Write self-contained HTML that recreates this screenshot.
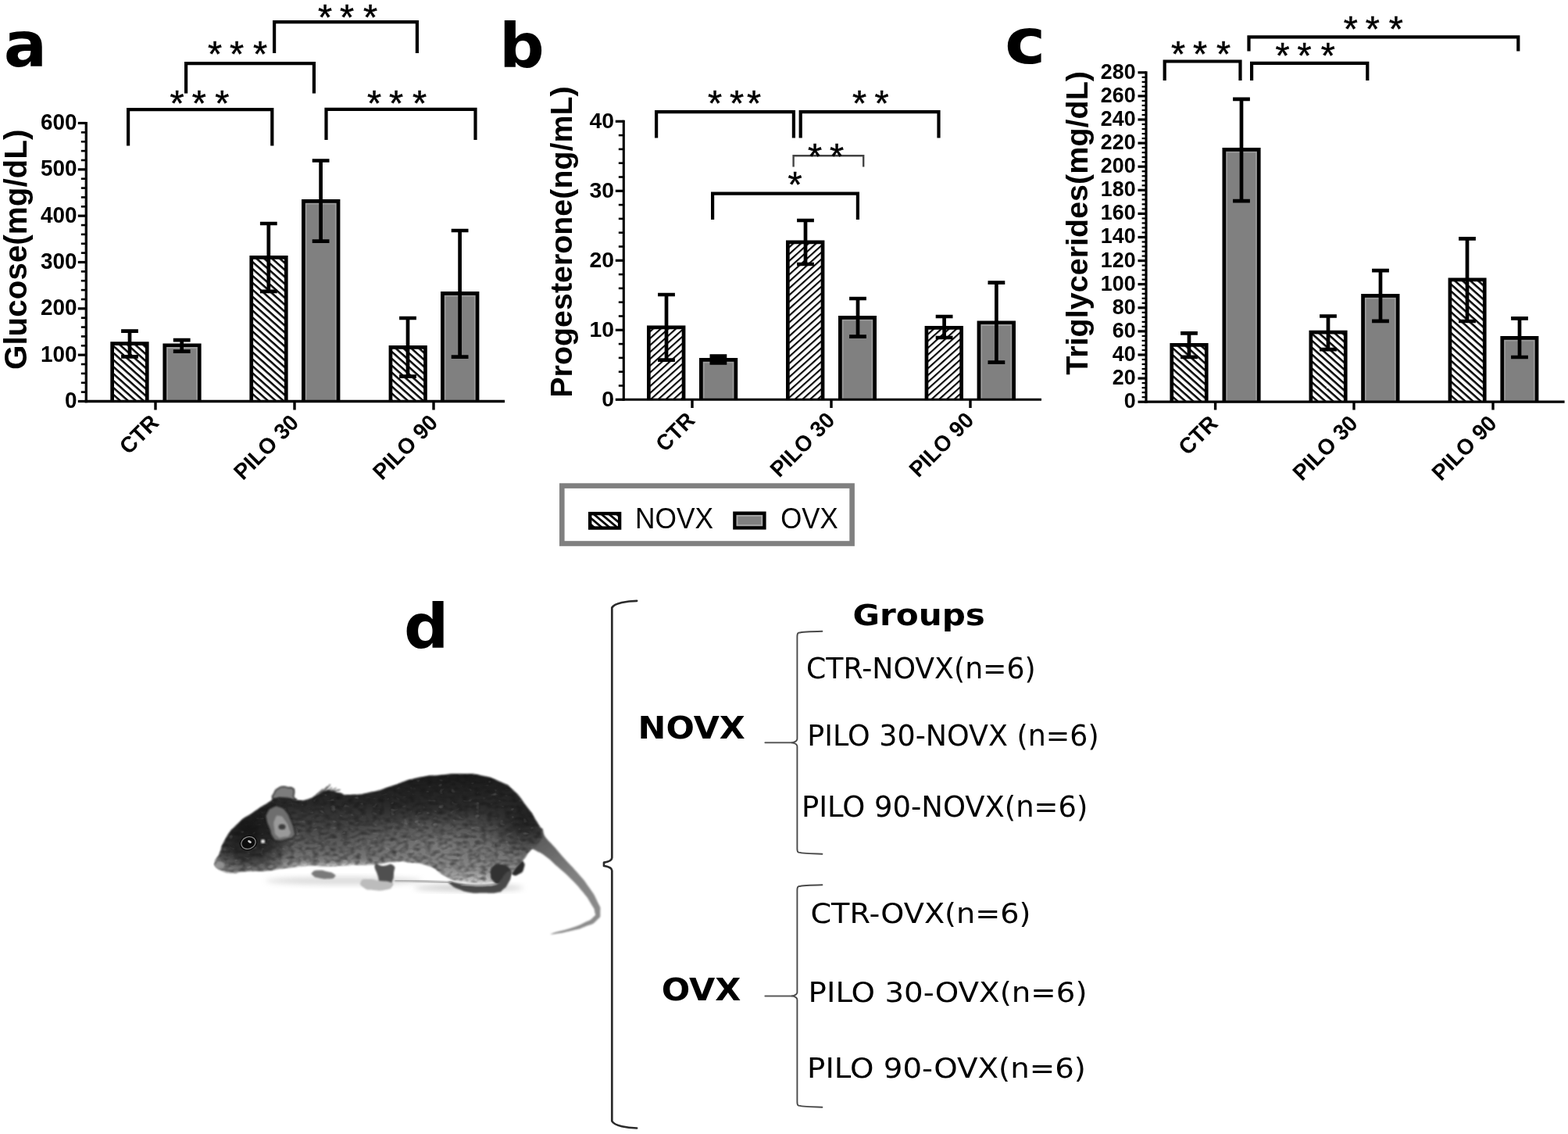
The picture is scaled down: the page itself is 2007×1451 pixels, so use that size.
<!DOCTYPE html>
<html lang="en">
<head>
<meta charset="utf-8">
<title>Figure: glucose, progesterone, triglycerides and experimental groups</title>
<style>
html,body{margin:0;padding:0;background:#fff;}
body{width:2007px;height:1451px;overflow:hidden;}
svg{display:block;}
text{white-space:pre;}
</style>
</head>
<body>
<svg width="2007" height="1451" viewBox="0 0 2007 1451">
<defs>
<pattern id="hatchA" patternUnits="userSpaceOnUse" width="6.63" height="6.63" patternTransform="rotate(41.8)">
<rect width="6.63" height="6.63" fill="#fff"/>
<rect y="0" width="6.63" height="2.5" fill="#000"/>
</pattern>
<pattern id="hatchB" patternUnits="userSpaceOnUse" width="6.5" height="6.5" patternTransform="rotate(-42)">
<rect width="6.5" height="6.5" fill="#fff"/>
<rect y="0" width="6.5" height="2.1" fill="#000"/>
</pattern>
<pattern id="hatchL" patternUnits="userSpaceOnUse" width="6.3" height="6.3" patternTransform="rotate(40) translate(0 1.5)"><rect width="6.3" height="6.3" fill="#fff"/><rect width="6.3" height="2.8" fill="#000"/></pattern>
</defs>
<rect width="2007" height="1451" fill="#fff"/>

<g id="panel-a">
<text transform="translate(4.80 85.01) scale(1.0318 1)" font-family='"DejaVu Sans", "Liberation Sans", sans-serif' font-weight="bold" font-size="79.65" fill="#000">a</text>
<rect x="143.65" y="439.65" width="44.60" height="73.85" fill="url(#hatchA)"/>
<path d="M143.65 513.50 V439.65 H188.25 V513.50" fill="none" stroke="#000" stroke-width="4.7"/>
<rect x="210.75" y="441.75" width="44.50" height="71.75" fill="#808080"/>
<path d="M214.00 512.00 V445.00 H252.00 V512.00" fill="none" stroke="#9c9c9c" stroke-width="1.8"/>
<path d="M210.75 513.50 V441.75 H255.25 V513.50" fill="none" stroke="#000" stroke-width="4.7"/>
<rect x="321.75" y="329.35" width="44.50" height="184.15" fill="url(#hatchA)"/>
<path d="M321.75 513.50 V329.35 H366.25 V513.50" fill="none" stroke="#000" stroke-width="4.7"/>
<rect x="388.35" y="257.35" width="44.70" height="256.15" fill="#808080"/>
<path d="M391.60 512.00 V260.60 H429.80 V512.00" fill="none" stroke="#9c9c9c" stroke-width="1.8"/>
<path d="M388.35 513.50 V257.35 H433.05 V513.50" fill="none" stroke="#000" stroke-width="4.7"/>
<rect x="499.95" y="444.35" width="44.50" height="69.15" fill="url(#hatchA)"/>
<path d="M499.95 513.50 V444.35 H544.45 V513.50" fill="none" stroke="#000" stroke-width="4.7"/>
<rect x="566.35" y="375.35" width="44.70" height="138.15" fill="#808080"/>
<path d="M569.60 512.00 V378.60 H607.80 V512.00" fill="none" stroke="#9c9c9c" stroke-width="1.8"/>
<path d="M566.35 513.50 V375.35 H611.05 V513.50" fill="none" stroke="#000" stroke-width="4.7"/>
<path d="M155.10 423.70 H176.90 M155.10 456.40 H176.90 M166.00 423.70 V456.40" fill="none" stroke="#000" stroke-width="4.7"/>
<path d="M221.80 435.20 H243.60 M221.80 449.70 H243.60 M232.70 435.20 V449.70" fill="none" stroke="#000" stroke-width="4.7"/>
<path d="M332.90 286.00 H354.70 M332.90 372.80 H354.70 M343.80 286.00 V372.80" fill="none" stroke="#000" stroke-width="4.7"/>
<path d="M399.70 205.50 H421.50 M399.70 308.70 H421.50 M410.60 205.50 V308.70" fill="none" stroke="#000" stroke-width="4.7"/>
<path d="M511.10 407.00 H532.90 M511.10 481.60 H532.90 M522.00 407.00 V481.60" fill="none" stroke="#000" stroke-width="4.7"/>
<path d="M577.70 295.00 H599.50 M577.70 456.60 H599.50 M588.60 295.00 V456.60" fill="none" stroke="#000" stroke-width="4.7"/>
<line x1="110.30" y1="155.92" x2="110.30" y2="515.15" stroke="#000" stroke-width="3.3" stroke-linecap="butt"/>
<line x1="108.65" y1="513.50" x2="646.00" y2="513.50" stroke="#000" stroke-width="3.3" stroke-linecap="butt"/>
<line x1="99.80" y1="513.50" x2="110.30" y2="513.50" stroke="#000" stroke-width="3.2" stroke-linecap="butt"/>
<text transform="translate(98.40 522.04) scale(0.975 1)" text-anchor="end" font-family='"Liberation Sans", Arial, Helvetica, sans-serif' font-weight="bold" font-size="28.6" fill="#000">0</text>
<line x1="103.80" y1="501.63" x2="110.30" y2="501.63" stroke="#000" stroke-width="2.6" stroke-linecap="butt"/>
<line x1="103.80" y1="489.77" x2="110.30" y2="489.77" stroke="#000" stroke-width="2.6" stroke-linecap="butt"/>
<line x1="103.80" y1="477.90" x2="110.30" y2="477.90" stroke="#000" stroke-width="2.6" stroke-linecap="butt"/>
<line x1="103.80" y1="466.04" x2="110.30" y2="466.04" stroke="#000" stroke-width="2.6" stroke-linecap="butt"/>
<line x1="99.80" y1="454.17" x2="110.30" y2="454.17" stroke="#000" stroke-width="3.2" stroke-linecap="butt"/>
<text transform="translate(98.40 462.71) scale(0.975 1)" text-anchor="end" font-family='"Liberation Sans", Arial, Helvetica, sans-serif' font-weight="bold" font-size="28.6" fill="#000">100</text>
<line x1="103.80" y1="442.30" x2="110.30" y2="442.30" stroke="#000" stroke-width="2.6" stroke-linecap="butt"/>
<line x1="103.80" y1="430.44" x2="110.30" y2="430.44" stroke="#000" stroke-width="2.6" stroke-linecap="butt"/>
<line x1="103.80" y1="418.57" x2="110.30" y2="418.57" stroke="#000" stroke-width="2.6" stroke-linecap="butt"/>
<line x1="103.80" y1="406.71" x2="110.30" y2="406.71" stroke="#000" stroke-width="2.6" stroke-linecap="butt"/>
<line x1="99.80" y1="394.84" x2="110.30" y2="394.84" stroke="#000" stroke-width="3.2" stroke-linecap="butt"/>
<text transform="translate(98.40 403.38) scale(0.975 1)" text-anchor="end" font-family='"Liberation Sans", Arial, Helvetica, sans-serif' font-weight="bold" font-size="28.6" fill="#000">200</text>
<line x1="103.80" y1="382.97" x2="110.30" y2="382.97" stroke="#000" stroke-width="2.6" stroke-linecap="butt"/>
<line x1="103.80" y1="371.11" x2="110.30" y2="371.11" stroke="#000" stroke-width="2.6" stroke-linecap="butt"/>
<line x1="103.80" y1="359.24" x2="110.30" y2="359.24" stroke="#000" stroke-width="2.6" stroke-linecap="butt"/>
<line x1="103.80" y1="347.38" x2="110.30" y2="347.38" stroke="#000" stroke-width="2.6" stroke-linecap="butt"/>
<line x1="99.80" y1="335.51" x2="110.30" y2="335.51" stroke="#000" stroke-width="3.2" stroke-linecap="butt"/>
<text transform="translate(98.40 344.05) scale(0.975 1)" text-anchor="end" font-family='"Liberation Sans", Arial, Helvetica, sans-serif' font-weight="bold" font-size="28.6" fill="#000">300</text>
<line x1="103.80" y1="323.64" x2="110.30" y2="323.64" stroke="#000" stroke-width="2.6" stroke-linecap="butt"/>
<line x1="103.80" y1="311.78" x2="110.30" y2="311.78" stroke="#000" stroke-width="2.6" stroke-linecap="butt"/>
<line x1="103.80" y1="299.91" x2="110.30" y2="299.91" stroke="#000" stroke-width="2.6" stroke-linecap="butt"/>
<line x1="103.80" y1="288.05" x2="110.30" y2="288.05" stroke="#000" stroke-width="2.6" stroke-linecap="butt"/>
<line x1="99.80" y1="276.18" x2="110.30" y2="276.18" stroke="#000" stroke-width="3.2" stroke-linecap="butt"/>
<text transform="translate(98.40 284.72) scale(0.975 1)" text-anchor="end" font-family='"Liberation Sans", Arial, Helvetica, sans-serif' font-weight="bold" font-size="28.6" fill="#000">400</text>
<line x1="103.80" y1="264.31" x2="110.30" y2="264.31" stroke="#000" stroke-width="2.6" stroke-linecap="butt"/>
<line x1="103.80" y1="252.45" x2="110.30" y2="252.45" stroke="#000" stroke-width="2.6" stroke-linecap="butt"/>
<line x1="103.80" y1="240.58" x2="110.30" y2="240.58" stroke="#000" stroke-width="2.6" stroke-linecap="butt"/>
<line x1="103.80" y1="228.72" x2="110.30" y2="228.72" stroke="#000" stroke-width="2.6" stroke-linecap="butt"/>
<line x1="99.80" y1="216.85" x2="110.30" y2="216.85" stroke="#000" stroke-width="3.2" stroke-linecap="butt"/>
<text transform="translate(98.40 225.39) scale(0.975 1)" text-anchor="end" font-family='"Liberation Sans", Arial, Helvetica, sans-serif' font-weight="bold" font-size="28.6" fill="#000">500</text>
<line x1="103.80" y1="204.98" x2="110.30" y2="204.98" stroke="#000" stroke-width="2.6" stroke-linecap="butt"/>
<line x1="103.80" y1="193.12" x2="110.30" y2="193.12" stroke="#000" stroke-width="2.6" stroke-linecap="butt"/>
<line x1="103.80" y1="181.25" x2="110.30" y2="181.25" stroke="#000" stroke-width="2.6" stroke-linecap="butt"/>
<line x1="103.80" y1="169.39" x2="110.30" y2="169.39" stroke="#000" stroke-width="2.6" stroke-linecap="butt"/>
<line x1="99.80" y1="157.52" x2="110.30" y2="157.52" stroke="#000" stroke-width="3.2" stroke-linecap="butt"/>
<text transform="translate(98.40 166.06) scale(0.975 1)" text-anchor="end" font-family='"Liberation Sans", Arial, Helvetica, sans-serif' font-weight="bold" font-size="28.6" fill="#000">600</text>
<line x1="199.00" y1="513.50" x2="199.00" y2="524.50" stroke="#000" stroke-width="3.4" stroke-linecap="butt"/>
<line x1="377.00" y1="513.50" x2="377.00" y2="524.50" stroke="#000" stroke-width="3.4" stroke-linecap="butt"/>
<line x1="555.00" y1="513.50" x2="555.00" y2="524.50" stroke="#000" stroke-width="3.4" stroke-linecap="butt"/>
<text transform="translate(205.00 542.50) rotate(-45) scale(0.97 1)" text-anchor="end" font-family='"Liberation Sans", Arial, Helvetica, sans-serif' font-weight="bold" font-size="28.6" fill="#000">CTR</text>
<text transform="translate(384.00 542.50) rotate(-45) scale(0.97 1)" text-anchor="end" font-family='"Liberation Sans", Arial, Helvetica, sans-serif' font-weight="bold" font-size="28.6" fill="#000">PILO 30</text>
<text transform="translate(562.00 542.50) rotate(-45) scale(0.97 1)" text-anchor="end" font-family='"Liberation Sans", Arial, Helvetica, sans-serif' font-weight="bold" font-size="28.6" fill="#000">PILO 90</text>
<text transform="translate(33.50 319.30) rotate(-90) scale(1.0 1)" text-anchor="middle" font-family='"Liberation Sans", Arial, Helvetica, sans-serif' font-weight="bold" font-size="40.4" fill="#000">Glucose(mg/dL)</text>
<path d="M164.10 186.40 V140.10 H348.30 V186.40" fill="none" stroke="#000" stroke-width="4.2" stroke-linejoin="miter"/>
<path d="M238.10 119.60 V81.10 H401.90 V119.60" fill="none" stroke="#000" stroke-width="4.2" stroke-linejoin="miter"/>
<path d="M351.10 68.00 V28.10 H533.90 V68.00" fill="none" stroke="#000" stroke-width="4.2" stroke-linejoin="miter"/>
<path d="M417.50 179.00 V139.90 H608.50 V179.00" fill="none" stroke="#000" stroke-width="4.2" stroke-linejoin="miter"/>
<text x="217.57 245.67 275.27" y="147.88" font-family='"Liberation Sans", Arial, Helvetica, sans-serif' font-size="46.5" fill="#000" stroke="#000" stroke-width="0.5">***</text>
<text x="266.07 294.07 324.07" y="85.08" font-family='"Liberation Sans", Arial, Helvetica, sans-serif' font-size="46.5" fill="#000" stroke="#000" stroke-width="0.5">***</text>
<text x="407.07 435.07 465.07" y="37.78" font-family='"Liberation Sans", Arial, Helvetica, sans-serif' font-size="46.5" fill="#000" stroke="#000" stroke-width="0.5">***</text>
<text x="470.07 498.07 528.07" y="148.08" font-family='"Liberation Sans", Arial, Helvetica, sans-serif' font-size="46.5" fill="#000" stroke="#000" stroke-width="0.5">***</text>
</g>
<g id="panel-b">
<text transform="translate(638.94 86.43) scale(1.0318 1)" font-family='"DejaVu Sans", "Liberation Sans", sans-serif' font-weight="bold" font-size="78.19" fill="#000">b</text>
<rect x="830.35" y="418.95" width="44.70" height="92.35" fill="url(#hatchB)"/>
<path d="M830.35 511.30 V418.95 H875.05 V511.30" fill="none" stroke="#000" stroke-width="4.7"/>
<rect x="897.35" y="460.35" width="44.50" height="50.95" fill="#808080"/>
<path d="M900.60 509.80 V463.60 H938.60 V509.80" fill="none" stroke="#9c9c9c" stroke-width="1.8"/>
<path d="M897.35 511.30 V460.35 H941.85 V511.30" fill="none" stroke="#000" stroke-width="4.7"/>
<rect x="1008.35" y="309.95" width="44.70" height="201.35" fill="url(#hatchB)"/>
<path d="M1008.35 511.30 V309.95 H1053.05 V511.30" fill="none" stroke="#000" stroke-width="4.7"/>
<rect x="1075.35" y="406.35" width="44.30" height="104.95" fill="#808080"/>
<path d="M1078.60 509.80 V409.60 H1116.40 V509.80" fill="none" stroke="#9c9c9c" stroke-width="1.8"/>
<path d="M1075.35 511.30 V406.35 H1119.65 V511.30" fill="none" stroke="#000" stroke-width="4.7"/>
<rect x="1185.95" y="419.35" width="44.70" height="91.95" fill="url(#hatchB)"/>
<path d="M1185.95 511.30 V419.35 H1230.65 V511.30" fill="none" stroke="#000" stroke-width="4.7"/>
<rect x="1252.95" y="412.75" width="44.70" height="98.55" fill="#808080"/>
<path d="M1256.20 509.80 V416.00 H1294.40 V509.80" fill="none" stroke="#9c9c9c" stroke-width="1.8"/>
<path d="M1252.95 511.30 V412.75 H1297.65 V511.30" fill="none" stroke="#000" stroke-width="4.7"/>
<path d="M842.10 377.00 H863.90 M842.10 460.70 H863.90 M853.00 377.00 V460.70" fill="none" stroke="#000" stroke-width="4.7"/>
<path d="M908.50 455.60 H930.30 M908.50 464.40 H930.30 M919.40 455.60 V464.40" fill="none" stroke="#000" stroke-width="4.7"/>
<path d="M1020.10 282.00 H1041.90 M1020.10 338.00 H1041.90 M1031.00 282.00 V338.00" fill="none" stroke="#000" stroke-width="4.7"/>
<path d="M1087.10 382.00 H1108.90 M1087.10 430.60 H1108.90 M1098.00 382.00 V430.60" fill="none" stroke="#000" stroke-width="4.7"/>
<path d="M1197.70 405.00 H1219.50 M1197.70 432.00 H1219.50 M1208.60 405.00 V432.00" fill="none" stroke="#000" stroke-width="4.7"/>
<path d="M1264.50 361.60 H1286.30 M1264.50 463.60 H1286.30 M1275.40 361.60 V463.60" fill="none" stroke="#000" stroke-width="4.7"/>
<line x1="798.30" y1="153.70" x2="798.30" y2="512.85" stroke="#000" stroke-width="3.1" stroke-linecap="butt"/>
<line x1="796.75" y1="511.30" x2="1333.00" y2="511.30" stroke="#000" stroke-width="3.1" stroke-linecap="butt"/>
<line x1="787.80" y1="511.30" x2="798.30" y2="511.30" stroke="#000" stroke-width="3.2" stroke-linecap="butt"/>
<text transform="translate(786.00 519.77) scale(1.0 1)" text-anchor="end" font-family='"Liberation Sans", Arial, Helvetica, sans-serif' font-weight="bold" font-size="28.4" fill="#000">0</text>
<line x1="791.80" y1="493.50" x2="798.30" y2="493.50" stroke="#000" stroke-width="2.6" stroke-linecap="butt"/>
<line x1="791.80" y1="475.70" x2="798.30" y2="475.70" stroke="#000" stroke-width="2.6" stroke-linecap="butt"/>
<line x1="791.80" y1="457.90" x2="798.30" y2="457.90" stroke="#000" stroke-width="2.6" stroke-linecap="butt"/>
<line x1="791.80" y1="440.10" x2="798.30" y2="440.10" stroke="#000" stroke-width="2.6" stroke-linecap="butt"/>
<line x1="787.80" y1="422.30" x2="798.30" y2="422.30" stroke="#000" stroke-width="3.2" stroke-linecap="butt"/>
<text transform="translate(786.00 430.77) scale(1.0 1)" text-anchor="end" font-family='"Liberation Sans", Arial, Helvetica, sans-serif' font-weight="bold" font-size="28.4" fill="#000">10</text>
<line x1="791.80" y1="404.50" x2="798.30" y2="404.50" stroke="#000" stroke-width="2.6" stroke-linecap="butt"/>
<line x1="791.80" y1="386.70" x2="798.30" y2="386.70" stroke="#000" stroke-width="2.6" stroke-linecap="butt"/>
<line x1="791.80" y1="368.90" x2="798.30" y2="368.90" stroke="#000" stroke-width="2.6" stroke-linecap="butt"/>
<line x1="791.80" y1="351.10" x2="798.30" y2="351.10" stroke="#000" stroke-width="2.6" stroke-linecap="butt"/>
<line x1="787.80" y1="333.30" x2="798.30" y2="333.30" stroke="#000" stroke-width="3.2" stroke-linecap="butt"/>
<text transform="translate(786.00 341.77) scale(1.0 1)" text-anchor="end" font-family='"Liberation Sans", Arial, Helvetica, sans-serif' font-weight="bold" font-size="28.4" fill="#000">20</text>
<line x1="791.80" y1="315.50" x2="798.30" y2="315.50" stroke="#000" stroke-width="2.6" stroke-linecap="butt"/>
<line x1="791.80" y1="297.70" x2="798.30" y2="297.70" stroke="#000" stroke-width="2.6" stroke-linecap="butt"/>
<line x1="791.80" y1="279.90" x2="798.30" y2="279.90" stroke="#000" stroke-width="2.6" stroke-linecap="butt"/>
<line x1="791.80" y1="262.10" x2="798.30" y2="262.10" stroke="#000" stroke-width="2.6" stroke-linecap="butt"/>
<line x1="787.80" y1="244.30" x2="798.30" y2="244.30" stroke="#000" stroke-width="3.2" stroke-linecap="butt"/>
<text transform="translate(786.00 252.77) scale(1.0 1)" text-anchor="end" font-family='"Liberation Sans", Arial, Helvetica, sans-serif' font-weight="bold" font-size="28.4" fill="#000">30</text>
<line x1="791.80" y1="226.50" x2="798.30" y2="226.50" stroke="#000" stroke-width="2.6" stroke-linecap="butt"/>
<line x1="791.80" y1="208.70" x2="798.30" y2="208.70" stroke="#000" stroke-width="2.6" stroke-linecap="butt"/>
<line x1="791.80" y1="190.90" x2="798.30" y2="190.90" stroke="#000" stroke-width="2.6" stroke-linecap="butt"/>
<line x1="791.80" y1="173.10" x2="798.30" y2="173.10" stroke="#000" stroke-width="2.6" stroke-linecap="butt"/>
<line x1="787.80" y1="155.30" x2="798.30" y2="155.30" stroke="#000" stroke-width="3.2" stroke-linecap="butt"/>
<text transform="translate(786.00 163.77) scale(1.0 1)" text-anchor="end" font-family='"Liberation Sans", Arial, Helvetica, sans-serif' font-weight="bold" font-size="28.4" fill="#000">40</text>
<line x1="886.00" y1="511.30" x2="886.00" y2="522.00" stroke="#000" stroke-width="3.4" stroke-linecap="butt"/>
<line x1="1064.00" y1="511.30" x2="1064.00" y2="522.00" stroke="#000" stroke-width="3.4" stroke-linecap="butt"/>
<line x1="1242.00" y1="511.30" x2="1242.00" y2="522.00" stroke="#000" stroke-width="3.4" stroke-linecap="butt"/>
<text transform="translate(891.00 539.50) rotate(-45) scale(0.97 1)" text-anchor="end" font-family='"Liberation Sans", Arial, Helvetica, sans-serif' font-weight="bold" font-size="28.4" fill="#000">CTR</text>
<text transform="translate(1070.00 539.50) rotate(-45) scale(0.97 1)" text-anchor="end" font-family='"Liberation Sans", Arial, Helvetica, sans-serif' font-weight="bold" font-size="28.4" fill="#000">PILO 30</text>
<text transform="translate(1248.00 539.50) rotate(-45) scale(0.97 1)" text-anchor="end" font-family='"Liberation Sans", Arial, Helvetica, sans-serif' font-weight="bold" font-size="28.4" fill="#000">PILO 90</text>
<text transform="translate(732.00 309.50) rotate(-90) scale(1.0 1)" text-anchor="middle" font-family='"Liberation Sans", Arial, Helvetica, sans-serif' font-weight="bold" font-size="39.4" fill="#000">Progesterone(ng/mL)</text>
<path d="M840.10 176.60 V143.10 H1015.90 V176.60" fill="none" stroke="#000" stroke-width="4.2" stroke-linejoin="miter"/>
<path d="M1024.70 176.60 V143.10 H1201.50 V176.60" fill="none" stroke="#000" stroke-width="4.2" stroke-linejoin="miter"/>
<path d="M1015.60 213.50 V199.20 H1105.20 V213.50" fill="none" stroke="#444" stroke-width="2.4" stroke-linejoin="miter"/>
<path d="M912.10 281.00 V247.70 H1097.90 V281.00" fill="none" stroke="#000" stroke-width="4.2" stroke-linejoin="miter"/>
<text x="906.07 934.07 956.07" y="148.48" font-family='"Liberation Sans", Arial, Helvetica, sans-serif' font-size="46.5" fill="#000" stroke="#000" stroke-width="0.5">***</text>
<text x="1091.07 1119.57" y="148.48" font-family='"Liberation Sans", Arial, Helvetica, sans-serif' font-size="46.5" fill="#000" stroke="#000" stroke-width="0.5">**</text>
<text x="1034.07 1062.07" y="215.68" font-family='"Liberation Sans", Arial, Helvetica, sans-serif' font-size="46.5" fill="#000" stroke="#000" stroke-width="0.5">**</text>
<text x="1008.57" y="252.48" font-family='"Liberation Sans", Arial, Helvetica, sans-serif' font-size="46.5" fill="#000" stroke="#000" stroke-width="0.5">*</text>
</g>
<g id="panel-c">
<text transform="translate(1285.92 81.21) scale(1.1140 1)" font-family='"DejaVu Sans", "Liberation Sans", sans-serif' font-weight="bold" font-size="79.48" fill="#000">c</text>
<rect x="1499.75" y="441.35" width="44.50" height="72.85" fill="url(#hatchA)"/>
<path d="M1499.75 514.20 V441.35 H1544.25 V514.20" fill="none" stroke="#000" stroke-width="4.7"/>
<rect x="1566.85" y="191.35" width="44.40" height="322.85" fill="#808080"/>
<path d="M1570.10 512.70 V194.60 H1608.00 V512.70" fill="none" stroke="#9c9c9c" stroke-width="1.8"/>
<path d="M1566.85 514.20 V191.35 H1611.25 V514.20" fill="none" stroke="#000" stroke-width="4.7"/>
<rect x="1677.85" y="425.15" width="44.40" height="89.05" fill="url(#hatchA)"/>
<path d="M1677.85 514.20 V425.15 H1722.25 V514.20" fill="none" stroke="#000" stroke-width="4.7"/>
<rect x="1744.55" y="378.35" width="44.60" height="135.85" fill="#808080"/>
<path d="M1747.80 512.70 V381.60 H1785.90 V512.70" fill="none" stroke="#9c9c9c" stroke-width="1.8"/>
<path d="M1744.55 514.20 V378.35 H1789.15 V514.20" fill="none" stroke="#000" stroke-width="4.7"/>
<rect x="1855.95" y="357.95" width="44.30" height="156.25" fill="url(#hatchA)"/>
<path d="M1855.95 514.20 V357.95 H1900.25 V514.20" fill="none" stroke="#000" stroke-width="4.7"/>
<rect x="1922.75" y="432.35" width="44.30" height="81.85" fill="#808080"/>
<path d="M1926.00 512.70 V435.60 H1963.80 V512.70" fill="none" stroke="#9c9c9c" stroke-width="1.8"/>
<path d="M1922.75 514.20 V432.35 H1967.05 V514.20" fill="none" stroke="#000" stroke-width="4.7"/>
<path d="M1511.10 426.30 H1532.90 M1511.10 456.80 H1532.90 M1522.00 426.30 V456.80" fill="none" stroke="#000" stroke-width="4.7"/>
<path d="M1578.10 126.90 H1599.90 M1578.10 257.20 H1599.90 M1589.00 126.90 V257.20" fill="none" stroke="#000" stroke-width="4.7"/>
<path d="M1689.10 404.50 H1710.90 M1689.10 447.20 H1710.90 M1700.00 404.50 V447.20" fill="none" stroke="#000" stroke-width="4.7"/>
<path d="M1756.10 346.20 H1777.90 M1756.10 410.90 H1777.90 M1767.00 346.20 V410.90" fill="none" stroke="#000" stroke-width="4.7"/>
<path d="M1867.10 305.40 H1888.90 M1867.10 411.00 H1888.90 M1878.00 305.40 V411.00" fill="none" stroke="#000" stroke-width="4.7"/>
<path d="M1934.10 407.40 H1955.90 M1934.10 457.00 H1955.90 M1945.00 407.40 V457.00" fill="none" stroke="#000" stroke-width="4.7"/>
<line x1="1467.00" y1="91.20" x2="1467.00" y2="515.80" stroke="#000" stroke-width="3.2" stroke-linecap="butt"/>
<line x1="1465.40" y1="514.20" x2="2002.60" y2="514.20" stroke="#000" stroke-width="3.2" stroke-linecap="butt"/>
<line x1="1456.50" y1="514.20" x2="1467.00" y2="514.20" stroke="#000" stroke-width="3.2" stroke-linecap="butt"/>
<text transform="translate(1453.60 522.17) scale(0.945 1)" text-anchor="end" font-family='"Liberation Sans", Arial, Helvetica, sans-serif' font-weight="bold" font-size="28.4" fill="#000">0</text>
<line x1="1461.60" y1="508.18" x2="1467.00" y2="508.18" stroke="#000" stroke-width="2.2" stroke-linecap="butt"/>
<line x1="1461.60" y1="502.16" x2="1467.00" y2="502.16" stroke="#000" stroke-width="2.2" stroke-linecap="butt"/>
<line x1="1461.60" y1="496.14" x2="1467.00" y2="496.14" stroke="#000" stroke-width="2.2" stroke-linecap="butt"/>
<line x1="1461.60" y1="490.12" x2="1467.00" y2="490.12" stroke="#000" stroke-width="2.2" stroke-linecap="butt"/>
<line x1="1456.50" y1="484.10" x2="1467.00" y2="484.10" stroke="#000" stroke-width="3.2" stroke-linecap="butt"/>
<text transform="translate(1453.60 492.07) scale(0.945 1)" text-anchor="end" font-family='"Liberation Sans", Arial, Helvetica, sans-serif' font-weight="bold" font-size="28.4" fill="#000">20</text>
<line x1="1461.60" y1="478.08" x2="1467.00" y2="478.08" stroke="#000" stroke-width="2.2" stroke-linecap="butt"/>
<line x1="1461.60" y1="472.06" x2="1467.00" y2="472.06" stroke="#000" stroke-width="2.2" stroke-linecap="butt"/>
<line x1="1461.60" y1="466.04" x2="1467.00" y2="466.04" stroke="#000" stroke-width="2.2" stroke-linecap="butt"/>
<line x1="1461.60" y1="460.02" x2="1467.00" y2="460.02" stroke="#000" stroke-width="2.2" stroke-linecap="butt"/>
<line x1="1456.50" y1="454.00" x2="1467.00" y2="454.00" stroke="#000" stroke-width="3.2" stroke-linecap="butt"/>
<text transform="translate(1453.60 461.97) scale(0.945 1)" text-anchor="end" font-family='"Liberation Sans", Arial, Helvetica, sans-serif' font-weight="bold" font-size="28.4" fill="#000">40</text>
<line x1="1461.60" y1="447.98" x2="1467.00" y2="447.98" stroke="#000" stroke-width="2.2" stroke-linecap="butt"/>
<line x1="1461.60" y1="441.96" x2="1467.00" y2="441.96" stroke="#000" stroke-width="2.2" stroke-linecap="butt"/>
<line x1="1461.60" y1="435.94" x2="1467.00" y2="435.94" stroke="#000" stroke-width="2.2" stroke-linecap="butt"/>
<line x1="1461.60" y1="429.92" x2="1467.00" y2="429.92" stroke="#000" stroke-width="2.2" stroke-linecap="butt"/>
<line x1="1456.50" y1="423.90" x2="1467.00" y2="423.90" stroke="#000" stroke-width="3.2" stroke-linecap="butt"/>
<text transform="translate(1453.60 431.87) scale(0.945 1)" text-anchor="end" font-family='"Liberation Sans", Arial, Helvetica, sans-serif' font-weight="bold" font-size="28.4" fill="#000">60</text>
<line x1="1461.60" y1="417.88" x2="1467.00" y2="417.88" stroke="#000" stroke-width="2.2" stroke-linecap="butt"/>
<line x1="1461.60" y1="411.86" x2="1467.00" y2="411.86" stroke="#000" stroke-width="2.2" stroke-linecap="butt"/>
<line x1="1461.60" y1="405.84" x2="1467.00" y2="405.84" stroke="#000" stroke-width="2.2" stroke-linecap="butt"/>
<line x1="1461.60" y1="399.82" x2="1467.00" y2="399.82" stroke="#000" stroke-width="2.2" stroke-linecap="butt"/>
<line x1="1456.50" y1="393.80" x2="1467.00" y2="393.80" stroke="#000" stroke-width="3.2" stroke-linecap="butt"/>
<text transform="translate(1453.60 401.77) scale(0.945 1)" text-anchor="end" font-family='"Liberation Sans", Arial, Helvetica, sans-serif' font-weight="bold" font-size="28.4" fill="#000">80</text>
<line x1="1461.60" y1="387.78" x2="1467.00" y2="387.78" stroke="#000" stroke-width="2.2" stroke-linecap="butt"/>
<line x1="1461.60" y1="381.76" x2="1467.00" y2="381.76" stroke="#000" stroke-width="2.2" stroke-linecap="butt"/>
<line x1="1461.60" y1="375.74" x2="1467.00" y2="375.74" stroke="#000" stroke-width="2.2" stroke-linecap="butt"/>
<line x1="1461.60" y1="369.72" x2="1467.00" y2="369.72" stroke="#000" stroke-width="2.2" stroke-linecap="butt"/>
<line x1="1456.50" y1="363.70" x2="1467.00" y2="363.70" stroke="#000" stroke-width="3.2" stroke-linecap="butt"/>
<text transform="translate(1453.60 371.67) scale(0.945 1)" text-anchor="end" font-family='"Liberation Sans", Arial, Helvetica, sans-serif' font-weight="bold" font-size="28.4" fill="#000">100</text>
<line x1="1461.60" y1="357.68" x2="1467.00" y2="357.68" stroke="#000" stroke-width="2.2" stroke-linecap="butt"/>
<line x1="1461.60" y1="351.66" x2="1467.00" y2="351.66" stroke="#000" stroke-width="2.2" stroke-linecap="butt"/>
<line x1="1461.60" y1="345.64" x2="1467.00" y2="345.64" stroke="#000" stroke-width="2.2" stroke-linecap="butt"/>
<line x1="1461.60" y1="339.62" x2="1467.00" y2="339.62" stroke="#000" stroke-width="2.2" stroke-linecap="butt"/>
<line x1="1456.50" y1="333.60" x2="1467.00" y2="333.60" stroke="#000" stroke-width="3.2" stroke-linecap="butt"/>
<text transform="translate(1453.60 341.57) scale(0.945 1)" text-anchor="end" font-family='"Liberation Sans", Arial, Helvetica, sans-serif' font-weight="bold" font-size="28.4" fill="#000">120</text>
<line x1="1461.60" y1="327.58" x2="1467.00" y2="327.58" stroke="#000" stroke-width="2.2" stroke-linecap="butt"/>
<line x1="1461.60" y1="321.56" x2="1467.00" y2="321.56" stroke="#000" stroke-width="2.2" stroke-linecap="butt"/>
<line x1="1461.60" y1="315.54" x2="1467.00" y2="315.54" stroke="#000" stroke-width="2.2" stroke-linecap="butt"/>
<line x1="1461.60" y1="309.52" x2="1467.00" y2="309.52" stroke="#000" stroke-width="2.2" stroke-linecap="butt"/>
<line x1="1456.50" y1="303.50" x2="1467.00" y2="303.50" stroke="#000" stroke-width="3.2" stroke-linecap="butt"/>
<text transform="translate(1453.60 311.47) scale(0.945 1)" text-anchor="end" font-family='"Liberation Sans", Arial, Helvetica, sans-serif' font-weight="bold" font-size="28.4" fill="#000">140</text>
<line x1="1461.60" y1="297.48" x2="1467.00" y2="297.48" stroke="#000" stroke-width="2.2" stroke-linecap="butt"/>
<line x1="1461.60" y1="291.46" x2="1467.00" y2="291.46" stroke="#000" stroke-width="2.2" stroke-linecap="butt"/>
<line x1="1461.60" y1="285.44" x2="1467.00" y2="285.44" stroke="#000" stroke-width="2.2" stroke-linecap="butt"/>
<line x1="1461.60" y1="279.42" x2="1467.00" y2="279.42" stroke="#000" stroke-width="2.2" stroke-linecap="butt"/>
<line x1="1456.50" y1="273.40" x2="1467.00" y2="273.40" stroke="#000" stroke-width="3.2" stroke-linecap="butt"/>
<text transform="translate(1453.60 281.37) scale(0.945 1)" text-anchor="end" font-family='"Liberation Sans", Arial, Helvetica, sans-serif' font-weight="bold" font-size="28.4" fill="#000">160</text>
<line x1="1461.60" y1="267.38" x2="1467.00" y2="267.38" stroke="#000" stroke-width="2.2" stroke-linecap="butt"/>
<line x1="1461.60" y1="261.36" x2="1467.00" y2="261.36" stroke="#000" stroke-width="2.2" stroke-linecap="butt"/>
<line x1="1461.60" y1="255.34" x2="1467.00" y2="255.34" stroke="#000" stroke-width="2.2" stroke-linecap="butt"/>
<line x1="1461.60" y1="249.32" x2="1467.00" y2="249.32" stroke="#000" stroke-width="2.2" stroke-linecap="butt"/>
<line x1="1456.50" y1="243.30" x2="1467.00" y2="243.30" stroke="#000" stroke-width="3.2" stroke-linecap="butt"/>
<text transform="translate(1453.60 251.27) scale(0.945 1)" text-anchor="end" font-family='"Liberation Sans", Arial, Helvetica, sans-serif' font-weight="bold" font-size="28.4" fill="#000">180</text>
<line x1="1461.60" y1="237.28" x2="1467.00" y2="237.28" stroke="#000" stroke-width="2.2" stroke-linecap="butt"/>
<line x1="1461.60" y1="231.26" x2="1467.00" y2="231.26" stroke="#000" stroke-width="2.2" stroke-linecap="butt"/>
<line x1="1461.60" y1="225.24" x2="1467.00" y2="225.24" stroke="#000" stroke-width="2.2" stroke-linecap="butt"/>
<line x1="1461.60" y1="219.22" x2="1467.00" y2="219.22" stroke="#000" stroke-width="2.2" stroke-linecap="butt"/>
<line x1="1456.50" y1="213.20" x2="1467.00" y2="213.20" stroke="#000" stroke-width="3.2" stroke-linecap="butt"/>
<text transform="translate(1453.60 221.17) scale(0.945 1)" text-anchor="end" font-family='"Liberation Sans", Arial, Helvetica, sans-serif' font-weight="bold" font-size="28.4" fill="#000">200</text>
<line x1="1461.60" y1="207.18" x2="1467.00" y2="207.18" stroke="#000" stroke-width="2.2" stroke-linecap="butt"/>
<line x1="1461.60" y1="201.16" x2="1467.00" y2="201.16" stroke="#000" stroke-width="2.2" stroke-linecap="butt"/>
<line x1="1461.60" y1="195.14" x2="1467.00" y2="195.14" stroke="#000" stroke-width="2.2" stroke-linecap="butt"/>
<line x1="1461.60" y1="189.12" x2="1467.00" y2="189.12" stroke="#000" stroke-width="2.2" stroke-linecap="butt"/>
<line x1="1456.50" y1="183.10" x2="1467.00" y2="183.10" stroke="#000" stroke-width="3.2" stroke-linecap="butt"/>
<text transform="translate(1453.60 191.07) scale(0.945 1)" text-anchor="end" font-family='"Liberation Sans", Arial, Helvetica, sans-serif' font-weight="bold" font-size="28.4" fill="#000">220</text>
<line x1="1461.60" y1="177.08" x2="1467.00" y2="177.08" stroke="#000" stroke-width="2.2" stroke-linecap="butt"/>
<line x1="1461.60" y1="171.06" x2="1467.00" y2="171.06" stroke="#000" stroke-width="2.2" stroke-linecap="butt"/>
<line x1="1461.60" y1="165.04" x2="1467.00" y2="165.04" stroke="#000" stroke-width="2.2" stroke-linecap="butt"/>
<line x1="1461.60" y1="159.02" x2="1467.00" y2="159.02" stroke="#000" stroke-width="2.2" stroke-linecap="butt"/>
<line x1="1456.50" y1="153.00" x2="1467.00" y2="153.00" stroke="#000" stroke-width="3.2" stroke-linecap="butt"/>
<text transform="translate(1453.60 160.97) scale(0.945 1)" text-anchor="end" font-family='"Liberation Sans", Arial, Helvetica, sans-serif' font-weight="bold" font-size="28.4" fill="#000">240</text>
<line x1="1461.60" y1="146.98" x2="1467.00" y2="146.98" stroke="#000" stroke-width="2.2" stroke-linecap="butt"/>
<line x1="1461.60" y1="140.96" x2="1467.00" y2="140.96" stroke="#000" stroke-width="2.2" stroke-linecap="butt"/>
<line x1="1461.60" y1="134.94" x2="1467.00" y2="134.94" stroke="#000" stroke-width="2.2" stroke-linecap="butt"/>
<line x1="1461.60" y1="128.92" x2="1467.00" y2="128.92" stroke="#000" stroke-width="2.2" stroke-linecap="butt"/>
<line x1="1456.50" y1="122.90" x2="1467.00" y2="122.90" stroke="#000" stroke-width="3.2" stroke-linecap="butt"/>
<text transform="translate(1453.60 130.87) scale(0.945 1)" text-anchor="end" font-family='"Liberation Sans", Arial, Helvetica, sans-serif' font-weight="bold" font-size="28.4" fill="#000">260</text>
<line x1="1461.60" y1="116.88" x2="1467.00" y2="116.88" stroke="#000" stroke-width="2.2" stroke-linecap="butt"/>
<line x1="1461.60" y1="110.86" x2="1467.00" y2="110.86" stroke="#000" stroke-width="2.2" stroke-linecap="butt"/>
<line x1="1461.60" y1="104.84" x2="1467.00" y2="104.84" stroke="#000" stroke-width="2.2" stroke-linecap="butt"/>
<line x1="1461.60" y1="98.82" x2="1467.00" y2="98.82" stroke="#000" stroke-width="2.2" stroke-linecap="butt"/>
<line x1="1456.50" y1="92.80" x2="1467.00" y2="92.80" stroke="#000" stroke-width="3.2" stroke-linecap="butt"/>
<text transform="translate(1453.60 100.77) scale(0.945 1)" text-anchor="end" font-family='"Liberation Sans", Arial, Helvetica, sans-serif' font-weight="bold" font-size="28.4" fill="#000">280</text>
<line x1="1555.60" y1="514.20" x2="1555.60" y2="524.50" stroke="#000" stroke-width="3.4" stroke-linecap="butt"/>
<line x1="1733.00" y1="514.20" x2="1733.00" y2="524.50" stroke="#000" stroke-width="3.4" stroke-linecap="butt"/>
<line x1="1911.00" y1="514.20" x2="1911.00" y2="524.50" stroke="#000" stroke-width="3.4" stroke-linecap="butt"/>
<text transform="translate(1560.50 543.50) rotate(-45) scale(0.97 1)" text-anchor="end" font-family='"Liberation Sans", Arial, Helvetica, sans-serif' font-weight="bold" font-size="28.6" fill="#000">CTR</text>
<text transform="translate(1739.50 543.50) rotate(-45) scale(0.97 1)" text-anchor="end" font-family='"Liberation Sans", Arial, Helvetica, sans-serif' font-weight="bold" font-size="28.6" fill="#000">PILO 30</text>
<text transform="translate(1917.50 543.50) rotate(-45) scale(0.97 1)" text-anchor="end" font-family='"Liberation Sans", Arial, Helvetica, sans-serif' font-weight="bold" font-size="28.6" fill="#000">PILO 90</text>
<text transform="translate(1392.20 285.40) rotate(-90) scale(1.035 1)" text-anchor="middle" font-family='"Liberation Sans", Arial, Helvetica, sans-serif' font-weight="bold" font-size="38.2" fill="#000">Triglycerides(mg/dL)</text>
<path d="M1490.70 103.00 V78.50 H1587.50 V103.00" fill="none" stroke="#000" stroke-width="4.2" stroke-linejoin="miter"/>
<path d="M1598.50 65.60 V47.30 H1943.30 V65.60" fill="none" stroke="#000" stroke-width="4.2" stroke-linejoin="miter"/>
<path d="M1602.10 103.00 V80.90 H1750.30 V103.00" fill="none" stroke="#000" stroke-width="4.2" stroke-linejoin="miter"/>
<text x="1499.07 1527.07 1557.07" y="85.48" font-family='"Liberation Sans", Arial, Helvetica, sans-serif' font-size="46.5" fill="#000" stroke="#000" stroke-width="0.5">***</text>
<text x="1719.67 1747.67 1777.67" y="53.08" font-family='"Liberation Sans", Arial, Helvetica, sans-serif' font-size="46.5" fill="#000" stroke="#000" stroke-width="0.5">***</text>
<text x="1632.47 1660.47 1690.67" y="87.08" font-family='"Liberation Sans", Arial, Helvetica, sans-serif' font-size="46.5" fill="#000" stroke="#000" stroke-width="0.5">***</text>
</g>
<g id="legend">
<rect x="719.3" y="621.6" width="371.3" height="73.9" fill="#fff" stroke="#808080" stroke-width="6.6"/>
<rect x="755.2" y="657.1" width="37.9" height="18.5" fill="url(#hatchL)" stroke="#000" stroke-width="4.4"/>
<rect x="940.4" y="656.7" width="38" height="18.7" fill="#808080" stroke="#000" stroke-width="4.4"/>
<rect x="943.6" y="659.9" width="31.6" height="12.3" fill="none" stroke="#a8a8a8" stroke-width="1.8"/>
<text transform="translate(813.08 675.93) scale(0.9415 1)" font-family='"Liberation Sans", Arial, Helvetica, sans-serif' font-size="37.46" fill="#000">NOVX</text>
<text transform="translate(999.34 675.93) scale(0.9280 1)" font-family='"Liberation Sans", Arial, Helvetica, sans-serif' font-size="37.46" fill="#000">OVX</text>
</g>
<g id="panel-d">
<text transform="translate(516.89 829.43) scale(1.0287 1)" font-family='"DejaVu Sans", "Liberation Sans", sans-serif' font-weight="bold" font-size="77.94" fill="#000">d</text>

<defs>
<linearGradient id="ratBody" gradientUnits="userSpaceOnUse" x1="0" y1="990" x2="0" y2="1132">
<stop offset="0" stop-color="#1a1a1a"/>
<stop offset="0.28" stop-color="#2a2a2a"/>
<stop offset="0.52" stop-color="#4a4a4a"/>
<stop offset="0.74" stop-color="#707070"/>
<stop offset="0.88" stop-color="#939393"/>
<stop offset="1" stop-color="#d0d0d0"/>
</linearGradient>
<radialGradient id="ratHead" gradientUnits="userSpaceOnUse" cx="318" cy="1062" r="62">
<stop offset="0" stop-color="#141414" stop-opacity="0.95"/>
<stop offset="0.55" stop-color="#1c1c1c" stop-opacity="0.75"/>
<stop offset="1" stop-color="#222" stop-opacity="0"/>
</radialGradient>
<radialGradient id="ratFlank" gradientUnits="userSpaceOnUse" cx="560" cy="1085" r="95" gradientTransform="translate(560 1085) scale(1.35 0.5) translate(-560 -1085)">
<stop offset="0" stop-color="#8c8c8c" stop-opacity="0.6"/>
<stop offset="1" stop-color="#888" stop-opacity="0"/>
</radialGradient>
<radialGradient id="ratRump" gradientUnits="userSpaceOnUse" cx="672" cy="1050" r="50">
<stop offset="0" stop-color="#1a1a1a" stop-opacity="0.8"/>
<stop offset="1" stop-color="#222" stop-opacity="0"/>
</radialGradient>
<linearGradient id="ratTail" gradientUnits="userSpaceOnUse" x1="690" y1="1070" x2="760" y2="1180">
<stop offset="0" stop-color="#5a5a5a"/>
<stop offset="0.5" stop-color="#808080"/>
<stop offset="1" stop-color="#8c8c8c"/>
</linearGradient>
<filter id="fur" x="-5%" y="-5%" width="110%" height="110%" color-interpolation-filters="sRGB">
<feTurbulence type="fractalNoise" baseFrequency="0.13 0.26" numOctaves="3" seed="11" result="n0"/>
<feGaussianBlur in="n0" stdDeviation="0.8" result="n"/>
<feColorMatrix in="n" type="matrix" values="0 0 0 0 0.07  0 0 0 0 0.07  0 0 0 0 0.07  1.35 0 0 0 -0.55" result="dark"/>
<feColorMatrix in="n" type="matrix" values="0 0 0 0 0.72  0 0 0 0 0.72  0 0 0 0 0.72  0 -1.25 0 0 0.5" result="light"/>
<feGaussianBlur in="SourceGraphic" stdDeviation="0.9" result="soft"/>
<feComposite in="dark" in2="soft" operator="in" result="d2"/>
<feComposite in="light" in2="soft" operator="in" result="l2"/>
<feMerge><feMergeNode in="soft"/><feMergeNode in="d2"/><feMergeNode in="l2"/></feMerge>
</filter>
<filter id="soft1" x="-10%" y="-10%" width="120%" height="120%"><feGaussianBlur stdDeviation="1"/></filter>
<filter id="soft3" x="-20%" y="-50%" width="140%" height="200%"><feGaussianBlur stdDeviation="3.5"/></filter>
<clipPath id="ratClip"><path d="M274.8 1104.0 C275.3 1100.3 275.4 1101.5 277.5 1097.5 C279.6 1093.5 277.4 1099.8 281.0 1092.0 C284.6 1084.2 280.5 1086.9 288.3 1074.2 C296.1 1061.5 292.3 1065.7 304.4 1054.0 C316.5 1042.3 311.6 1048.2 324.6 1039.2 C337.6 1030.2 334.3 1033.0 343.4 1027.1 C352.5 1021.2 344.5 1023.7 352.0 1021.5 C359.5 1019.3 356.3 1019.8 366.0 1020.5 C375.7 1021.2 371.5 1023.1 381.0 1023.7 C390.5 1024.3 386.2 1024.8 394.5 1022.4 C402.8 1020.0 398.8 1020.0 406.0 1016.5 C413.2 1013.0 410.0 1013.7 416.0 1012.0 C422.0 1010.3 417.7 1010.7 424.0 1011.5 C430.3 1012.3 426.8 1012.7 434.9 1014.5 C443.0 1016.3 434.9 1017.3 448.4 1017.0 C461.9 1016.7 457.4 1017.4 475.3 1013.6 C493.2 1009.8 482.9 1011.5 502.2 1005.5 C521.5 999.5 511.8 1000.3 533.1 995.6 C554.4 990.9 546.8 993.3 566.1 991.5 C585.4 989.7 574.4 989.9 591.0 990.2 C607.6 990.5 599.3 988.8 615.8 992.3 C632.3 995.8 626.8 994.3 640.6 1000.6 C654.4 1006.9 646.1 1001.1 657.1 1011.3 C668.1 1021.5 663.7 1018.0 673.6 1031.2 C683.5 1044.4 680.3 1039.4 686.9 1051.0 C693.5 1062.6 692.5 1056.9 693.5 1065.9 C694.5 1074.9 694.5 1071.0 690.0 1078.0 C685.5 1085.0 686.7 1079.7 680.0 1087.0 C673.3 1094.3 676.3 1092.3 670.0 1100.0 C663.7 1107.7 667.0 1103.0 661.0 1110.0 C655.0 1117.0 659.0 1115.3 652.0 1121.0 C645.0 1126.7 652.3 1124.0 640.0 1127.0 C627.7 1130.0 630.0 1129.3 615.0 1130.0 C600.0 1130.7 607.0 1130.3 595.0 1129.0 C583.0 1127.7 589.0 1129.7 579.0 1126.0 C569.0 1122.3 575.1 1124.0 565.0 1118.0 C554.9 1112.0 562.3 1112.8 548.6 1108.0 C534.9 1103.2 538.2 1105.3 524.0 1103.5 C509.8 1101.7 520.7 1101.7 506.0 1102.5 C491.3 1103.3 498.7 1104.5 480.0 1106.0 C461.3 1107.5 470.0 1106.2 450.0 1107.0 C430.0 1107.8 438.3 1108.2 420.0 1108.5 C401.7 1108.8 410.3 1107.5 395.0 1108.0 C379.7 1108.5 387.7 1108.5 374.0 1110.0 C360.3 1111.5 365.1 1111.0 354.0 1112.5 C342.9 1114.0 354.1 1113.6 340.7 1114.5 C327.3 1115.4 328.1 1114.3 313.8 1115.2 C299.5 1116.1 307.6 1117.4 297.7 1117.2 C287.8 1117.0 291.4 1117.4 284.2 1114.5 C277.0 1111.6 279.1 1112.0 276.0 1108.5 C272.9 1105.0 274.3 1107.7 274.8 1104.0Z"/></clipPath>
</defs>
<g id="rat">
<ellipse cx="440" cy="1127" rx="100" ry="5" fill="#bdbdbd" opacity="0.55" filter="url(#soft3)"/>
<ellipse cx="600" cy="1136" rx="70" ry="4" fill="#999" opacity="0.5" filter="url(#soft3)"/>
<path d="M672.3 1079.6 C670.7 1088.8 676.7 1082.8 685.2 1088.0 C693.7 1093.2 688.4 1088.3 697.8 1095.2 C707.3 1102.1 702.6 1099.0 713.5 1108.8 C724.4 1118.5 719.9 1113.7 730.6 1124.4 C741.2 1135.1 736.8 1130.1 745.5 1140.8 C754.2 1151.5 751.3 1147.7 756.5 1156.4 C761.8 1165.1 760.4 1161.2 761.3 1167.0 C762.2 1172.8 763.9 1169.1 759.2 1173.8 C754.5 1178.4 756.5 1176.5 747.1 1181.0 C737.7 1185.5 743.4 1183.3 731.0 1187.4 C718.6 1191.5 716.8 1190.8 709.8 1193.3 C702.9 1195.8 702.8 1195.7 710.2 1194.9 C717.6 1194.0 719.0 1193.9 732.0 1190.8 C745.0 1187.7 738.6 1189.9 749.1 1185.6 C759.6 1181.3 757.0 1184.4 763.4 1178.0 C769.8 1171.7 768.1 1175.2 768.3 1166.6 C768.5 1158.1 769.0 1163.0 764.1 1152.4 C759.1 1141.8 761.8 1146.7 753.5 1134.8 C745.2 1122.9 749.2 1128.5 739.0 1116.6 C728.9 1104.7 733.1 1110.4 723.1 1099.2 C713.1 1088.0 717.0 1092.1 709.0 1083.0 C700.9 1073.9 705.2 1079.6 698.8 1072.0 C692.4 1064.5 698.6 1057.8 689.7 1060.4 C680.9 1062.9 673.8 1070.4 672.3 1079.6Z" fill="url(#ratTail)" filter="url(#soft1)"/>
<path d="M350.5 1022.5 C346.3 1019.2 349.7 1018.5 351.5 1014.0 C353.3 1009.5 352.4 1011.4 356.0 1009.0 C359.6 1006.6 358.2 1007.2 362.2 1006.7 C366.2 1006.2 363.9 1006.9 368.0 1007.6 C372.1 1008.3 371.6 1006.9 374.4 1008.7 C377.2 1010.5 376.0 1009.4 376.4 1013.0 C376.8 1016.6 375.2 1015.8 375.7 1019.5 C376.2 1023.2 381.9 1022.5 378.0 1024.0 C374.1 1025.5 373.2 1024.5 364.0 1024.0 C354.8 1023.5 354.7 1025.8 350.5 1022.5Z" fill="#7c7c7c" stroke="#2a2a2a" stroke-width="1.8" filter="url(#soft1)"/>
<path d="M655.0 1103.0 C658.5 1099.8 659.0 1101.5 664.0 1101.5 C669.0 1101.5 667.8 1099.8 670.0 1103.0 C672.2 1106.2 672.2 1106.0 670.5 1111.0 C668.8 1116.0 669.8 1115.3 665.0 1118.0 C660.2 1120.7 659.8 1121.3 656.0 1119.0 C652.2 1116.7 653.8 1116.3 653.5 1111.0 C653.2 1105.7 651.5 1106.2 655.0 1103.0Z" fill="#2a2a2a" filter="url(#soft1)"/>
<g fill="none" stroke="#3a3a3a" stroke-width="1.3" stroke-linecap="round" filter="url(#soft1)" opacity="0.85">
<path d="M410 1015 L419 1006.5"/><path d="M414 1014 L422.5 1004"/><path d="M418 1013 L424.5 1008"/><path d="M422 1012.5 L430 1008.5"/><path d="M426 1013 L435 1010.5"/><path d="M405 1017 L413 1010"/>
</g>
<g filter="url(#fur)">
<path d="M274.8 1104.0 C275.3 1100.3 275.4 1101.5 277.5 1097.5 C279.6 1093.5 277.4 1099.8 281.0 1092.0 C284.6 1084.2 280.5 1086.9 288.3 1074.2 C296.1 1061.5 292.3 1065.7 304.4 1054.0 C316.5 1042.3 311.6 1048.2 324.6 1039.2 C337.6 1030.2 334.3 1033.0 343.4 1027.1 C352.5 1021.2 344.5 1023.7 352.0 1021.5 C359.5 1019.3 356.3 1019.8 366.0 1020.5 C375.7 1021.2 371.5 1023.1 381.0 1023.7 C390.5 1024.3 386.2 1024.8 394.5 1022.4 C402.8 1020.0 398.8 1020.0 406.0 1016.5 C413.2 1013.0 410.0 1013.7 416.0 1012.0 C422.0 1010.3 417.7 1010.7 424.0 1011.5 C430.3 1012.3 426.8 1012.7 434.9 1014.5 C443.0 1016.3 434.9 1017.3 448.4 1017.0 C461.9 1016.7 457.4 1017.4 475.3 1013.6 C493.2 1009.8 482.9 1011.5 502.2 1005.5 C521.5 999.5 511.8 1000.3 533.1 995.6 C554.4 990.9 546.8 993.3 566.1 991.5 C585.4 989.7 574.4 989.9 591.0 990.2 C607.6 990.5 599.3 988.8 615.8 992.3 C632.3 995.8 626.8 994.3 640.6 1000.6 C654.4 1006.9 646.1 1001.1 657.1 1011.3 C668.1 1021.5 663.7 1018.0 673.6 1031.2 C683.5 1044.4 680.3 1039.4 686.9 1051.0 C693.5 1062.6 692.5 1056.9 693.5 1065.9 C694.5 1074.9 694.5 1071.0 690.0 1078.0 C685.5 1085.0 686.7 1079.7 680.0 1087.0 C673.3 1094.3 676.3 1092.3 670.0 1100.0 C663.7 1107.7 667.0 1103.0 661.0 1110.0 C655.0 1117.0 659.0 1115.3 652.0 1121.0 C645.0 1126.7 652.3 1124.0 640.0 1127.0 C627.7 1130.0 630.0 1129.3 615.0 1130.0 C600.0 1130.7 607.0 1130.3 595.0 1129.0 C583.0 1127.7 589.0 1129.7 579.0 1126.0 C569.0 1122.3 575.1 1124.0 565.0 1118.0 C554.9 1112.0 562.3 1112.8 548.6 1108.0 C534.9 1103.2 538.2 1105.3 524.0 1103.5 C509.8 1101.7 520.7 1101.7 506.0 1102.5 C491.3 1103.3 498.7 1104.5 480.0 1106.0 C461.3 1107.5 470.0 1106.2 450.0 1107.0 C430.0 1107.8 438.3 1108.2 420.0 1108.5 C401.7 1108.8 410.3 1107.5 395.0 1108.0 C379.7 1108.5 387.7 1108.5 374.0 1110.0 C360.3 1111.5 365.1 1111.0 354.0 1112.5 C342.9 1114.0 354.1 1113.6 340.7 1114.5 C327.3 1115.4 328.1 1114.3 313.8 1115.2 C299.5 1116.1 307.6 1117.4 297.7 1117.2 C287.8 1117.0 291.4 1117.4 284.2 1114.5 C277.0 1111.6 279.1 1112.0 276.0 1108.5 C272.9 1105.0 274.3 1107.7 274.8 1104.0Z" fill="url(#ratBody)"/>
<g clip-path="url(#ratClip)">
<rect x="270" y="985" width="430" height="160" fill="url(#ratFlank)"/>
<rect x="270" y="985" width="150" height="160" fill="url(#ratHead)"/>
<rect x="620" y="985" width="90" height="130" fill="url(#ratRump)"/>
<path d="M380.0 1108.0 C392.0 1106.3 393.3 1108.3 420.0 1108.0 C446.7 1107.7 433.3 1105.7 460.0 1107.0 C486.7 1108.3 473.3 1107.3 500.0 1112.0 C526.7 1116.7 515.0 1116.3 540.0 1121.0 C565.0 1125.7 555.0 1123.3 575.0 1126.0 C595.0 1128.7 600.0 1127.3 600.0 1129.0 C600.0 1130.7 595.0 1130.7 575.0 1131.0 C555.0 1131.3 563.3 1131.0 540.0 1130.0 C516.7 1129.0 528.3 1130.0 505.0 1128.0 C481.7 1126.0 495.0 1126.3 470.0 1124.0 C445.0 1121.7 453.3 1123.3 430.0 1121.0 C406.7 1118.7 415.3 1119.7 400.0 1117.0 C384.7 1114.3 390.7 1116.0 384.0 1113.0 C377.3 1110.0 368.0 1109.7 380.0 1108.0Z" fill="#f4f4f4" filter="url(#soft3)"/>
</g>
</g>
<path d="M632.0 1108.0 C636.7 1104.0 635.7 1105.3 642.0 1106.0 C648.3 1106.7 647.3 1106.0 651.0 1110.0 C654.7 1114.0 654.0 1112.3 653.0 1118.0 C652.0 1123.7 652.3 1122.7 648.0 1127.0 C643.7 1131.3 645.3 1130.7 640.0 1131.0 C634.7 1131.3 636.0 1132.3 632.0 1128.0 C628.0 1123.7 628.0 1124.7 628.0 1118.0 C628.0 1111.3 627.3 1112.0 632.0 1108.0Z" fill="#333" filter="url(#soft1)"/>
<path d="M576.0 1128.0 C579.7 1127.5 579.3 1128.8 588.0 1130.5 C596.7 1132.2 591.3 1132.0 602.0 1133.0 C612.7 1134.0 609.3 1134.0 620.0 1133.5 C630.7 1133.0 627.0 1134.0 634.0 1131.5 C641.0 1129.0 637.0 1130.2 641.0 1126.0 C645.0 1121.8 642.3 1122.7 646.0 1119.0 C649.7 1115.3 649.3 1114.3 652.0 1115.0 C654.7 1115.7 654.7 1115.7 654.0 1121.0 C653.3 1126.3 653.3 1125.3 650.0 1131.0 C646.7 1136.7 648.7 1134.3 644.0 1138.0 C639.3 1141.7 644.7 1140.5 636.0 1142.0 C627.3 1143.5 629.3 1142.5 618.0 1142.5 C606.7 1142.5 612.0 1143.5 602.0 1142.0 C592.0 1140.5 596.3 1141.3 588.0 1138.0 C579.7 1134.7 581.0 1135.3 577.0 1132.0 C573.0 1128.7 572.3 1128.5 576.0 1128.0Z" fill="#4a4a4a" filter="url(#soft1)"/>
<path d="M590 1132 Q615 1135 636 1131" fill="none" stroke="#8a8a8a" stroke-width="2" filter="url(#soft1)"/>
<path d="M505 1126.5 Q540 1127 578 1129.5" fill="none" stroke="#9a9a9a" stroke-width="2.4" filter="url(#soft1)"/>
<path d="M480.0 1106.0 C482.0 1101.3 482.3 1107.7 490.0 1108.0 C497.7 1108.3 498.3 1103.7 503.0 1107.0 C507.7 1110.3 504.3 1111.0 504.0 1118.0 C503.7 1125.0 504.0 1122.7 502.0 1128.0 C500.0 1133.3 503.0 1132.3 498.0 1134.0 C493.0 1135.7 491.7 1137.0 487.0 1133.0 C482.3 1129.0 486.3 1131.0 484.0 1122.0 C481.7 1113.0 478.0 1110.7 480.0 1106.0Z" fill="#505050" filter="url(#soft1)"/>
<path d="M462.0 1128.0 C464.0 1124.3 464.0 1125.3 472.0 1125.0 C480.0 1124.7 476.7 1125.7 486.0 1127.0 C495.3 1128.3 494.7 1126.7 500.0 1129.0 C505.3 1131.3 504.0 1130.8 502.0 1134.0 C500.0 1137.2 502.0 1136.8 494.0 1138.5 C486.0 1140.2 487.3 1139.8 478.0 1139.0 C468.7 1138.2 471.3 1139.7 466.0 1136.0 C460.7 1132.3 460.0 1131.7 462.0 1128.0Z" fill="#bcbcbc" filter="url(#soft1)"/>
<path d="M400.0 1116.0 C402.3 1113.7 402.0 1113.8 408.0 1113.5 C414.0 1113.2 411.7 1113.5 418.0 1115.0 C424.3 1116.5 423.7 1115.5 427.0 1118.0 C430.3 1120.5 430.3 1120.3 428.0 1122.5 C425.7 1124.7 426.7 1124.2 420.0 1124.5 C413.3 1124.8 414.3 1124.8 408.0 1123.5 C401.7 1122.2 403.7 1123.0 401.0 1120.5 C398.3 1118.0 397.7 1118.3 400.0 1116.0Z" fill="#7a7a7a" filter="url(#soft1)"/>
<path d="M342.0 1040.0 C344.7 1034.7 343.7 1035.5 349.0 1033.0 C354.3 1030.5 352.3 1030.8 358.0 1032.5 C363.7 1034.2 361.3 1032.5 366.0 1038.0 C370.7 1043.5 368.5 1041.0 372.0 1049.0 C375.5 1057.0 375.2 1055.0 376.5 1062.0 C377.8 1069.0 378.8 1066.2 376.0 1070.0 C373.2 1073.8 374.7 1071.7 368.0 1073.5 C361.3 1075.3 362.3 1076.3 356.0 1075.5 C349.7 1074.7 352.7 1076.2 349.0 1071.0 C345.3 1065.8 347.7 1067.3 345.0 1060.0 C342.3 1052.7 342.0 1055.7 341.0 1049.0 C340.0 1042.3 339.3 1045.3 342.0 1040.0Z" fill="#6e6e6e" stroke="#262626" stroke-width="1.4" filter="url(#soft1)"/>
<path d="M352.0 1048.0 C354.3 1042.7 353.7 1043.3 358.0 1044.0 C362.3 1044.7 361.0 1044.7 365.0 1050.0 C369.0 1055.3 368.0 1054.0 370.0 1060.0 C372.0 1066.0 373.3 1064.3 371.0 1068.0 C368.7 1071.7 368.3 1070.3 363.0 1071.0 C357.7 1071.7 359.0 1073.7 355.0 1070.0 C351.0 1066.3 352.0 1067.3 351.0 1060.0 C350.0 1052.7 349.7 1053.3 352.0 1048.0Z" fill="#9a9a9a" filter="url(#soft1)"/>
<ellipse cx="361" cy="1058" rx="4.5" ry="3.5" fill="#3c3c3c" filter="url(#soft1)"/>
<ellipse cx="318" cy="1078.5" rx="11.5" ry="9.5" fill="#0c0c0c" transform="rotate(-20 318 1078.5)"/>
<ellipse cx="318" cy="1078.5" rx="9.4" ry="7.6" fill="none" stroke="#8a8a8a" stroke-width="1.3" transform="rotate(-20 318 1078.5)"/>
<ellipse cx="319.5" cy="1077" rx="2.6" ry="1.5" fill="#d0d0d0" transform="rotate(30 319.5 1077)"/>
<circle cx="336.5" cy="1076.5" r="2.6" fill="#e6e6e6" filter="url(#soft1)"/>
<ellipse cx="281" cy="1107" rx="6" ry="4.5" fill="#9a9a9a" opacity="0.8" filter="url(#soft1)"/>
</g>

<path d="M815.1 768.8 C803 769 786.5 771.5 783.3 777.5 V1097.5 C783.3 1101.5 778.5 1102.8 773 1103.7 V1107.9 C778.5 1108.8 783.3 1110 783.3 1114 V1434.5 C786.5 1440.8 803 1443.2 815.1 1443.5" fill="none" stroke="#2b2b2b" stroke-width="2.7" stroke-linecap="round" stroke-linejoin="round"/>
<path d="M1052.4 807.7 C1040 808.0 1026 808.7 1022.2 809.7 C1020.7 810.3 1020.4 811.7 1020.4 814.2 V945.3 C1020.4 948.3 1018 949.7 1013 950.3 C1018 950.9 1020.4 952.3 1020.4 955.3 V1086.2 C1020.4 1088.7 1020.7 1090.1 1022.2 1090.7 C1026 1091.7 1040 1092.4 1052.4 1092.7" fill="none" stroke="#4a4a4a" stroke-width="1.9" stroke-linecap="round"/>
<path d="M979.4 950.3 H1014" fill="none" stroke="#5a5a5a" stroke-width="2" stroke-linecap="round"/>
<path d="M1052.4 1132.2 C1040 1132.5 1026 1133.2 1022.2 1134.2 C1020.7 1134.8 1020.4 1136.2 1020.4 1138.7 V1269.4 C1020.4 1272.4 1018 1273.8 1013 1274.4 C1018 1275.0 1020.4 1276.4 1020.4 1279.4 V1410.2 C1020.4 1412.7 1020.7 1414.1 1022.2 1414.7 C1026 1415.7 1040 1416.4 1052.4 1416.7" fill="none" stroke="#4a4a4a" stroke-width="1.9" stroke-linecap="round"/>
<path d="M979.4 1274.4 H1014" fill="none" stroke="#5a5a5a" stroke-width="2" stroke-linecap="round"/>
<text transform="translate(1091.39 799.88) scale(1.1186 1)" font-family='"DejaVu Sans", "Liberation Sans", sans-serif' font-weight="bold" font-size="37.67" fill="#000">Groups</text>
<text transform="translate(816.54 944.73) scale(1.1193 1)" font-family='"DejaVu Sans", "Liberation Sans", sans-serif' font-weight="bold" font-size="38.28" fill="#000">NOVX</text>
<text transform="translate(846.65 1280.32) scale(1.1158 1)" font-family='"DejaVu Sans", "Liberation Sans", sans-serif' font-weight="bold" font-size="38.54" fill="#000">OVX</text>
<text transform="translate(1031.95 867.60) scale(0.9945 1)" font-family='"DejaVu Sans", "Liberation Sans", sans-serif' font-size="36.50" fill="#000">CTR-NOVX(n=6)</text>
<text transform="translate(1033.36 953.90) scale(0.9982 1)" font-family='"DejaVu Sans", "Liberation Sans", sans-serif' font-size="36.50" fill="#000">PILO 30-NOVX (n=6)</text>
<text transform="translate(1025.91 1045.00) scale(1.0113 1)" font-family='"DejaVu Sans", "Liberation Sans", sans-serif' font-size="36.50" fill="#000">PILO 90-NOVX(n=6)</text>
<text transform="translate(1037.40 1180.70) scale(1.0624 1)" font-family='"DejaVu Sans", "Liberation Sans", sans-serif' font-size="36.00" fill="#000">CTR-OVX(n=6)</text>
<text transform="translate(1034.62 1282.20) scale(1.0766 1)" font-family='"DejaVu Sans", "Liberation Sans", sans-serif' font-size="36.00" fill="#000">PILO 30-OVX(n=6)</text>
<text transform="translate(1033.02 1378.60) scale(1.0766 1)" font-family='"DejaVu Sans", "Liberation Sans", sans-serif' font-size="36.00" fill="#000">PILO 90-OVX(n=6)</text>
</g>
</svg>
</body>
</html>
